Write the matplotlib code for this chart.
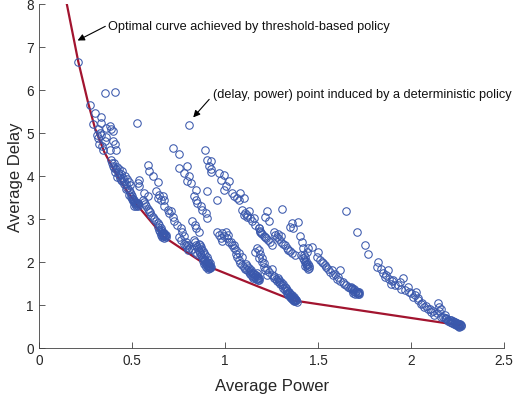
import numpy as np
import matplotlib
matplotlib.use('Agg')
import matplotlib.pyplot as plt

plt.rcParams['font.family'] = ['Liberation Sans', 'DejaVu Sans']

# ### optimal (threshold-based) curve ###
curve_power = [0.146, 0.187, 0.209, 0.262, 0.30, 0.35, 0.40, 0.45, 0.53, 0.67, 0.91, 1.18, 1.367, 2.266]
curve_delay = [8.04, 7.15, 6.67, 5.71, 5.10, 4.55, 4.15, 3.78, 3.30, 2.58, 1.89, 1.42, 1.10, 0.52]

# ### deterministic policies, grouped by streak ###
outliers = [(0.351, 5.92), (0.405, 5.96), (0.526, 5.22), (0.806, 5.18)]

streak_a = [(0.209, 6.66), (0.271, 5.65), (0.30, 5.47), (0.33, 5.38), (0.289, 5.2), (0.334, 5.22),
            (0.316, 5.08), (0.325, 5.0), (0.334, 4.96), (0.316, 4.89), (0.36, 5.12), (0.378, 5.16),
            (0.387, 5.08), (0.396, 5.04), (0.351, 4.81), (0.342, 4.61), (0.396, 4.81), (0.405, 4.73),
            (0.414, 4.61), (0.378, 4.61), (0.31, 4.95), (0.32, 4.75), (0.335, 4.7), (0.36, 4.9)]

streak_b = [(0.385, 4.38), (0.39, 4.3), (0.398, 4.24), (0.40, 4.18), (0.41, 4.15), (0.405, 4.08),
            (0.418, 4.2), (0.425, 4.1), (0.43, 4.02), (0.44, 4.05), (0.435, 3.95), (0.448, 3.95),
            (0.445, 3.88), (0.458, 3.88), (0.455, 3.8), (0.468, 3.8), (0.472, 3.72), (0.48, 3.68),
            (0.488, 3.62), (0.495, 3.58), (0.50, 3.52), (0.505, 3.47), (0.51, 3.44), (0.515, 3.4),
            (0.52, 3.36), (0.525, 3.32), (0.53, 3.3), (0.512, 3.3), (0.529, 3.36), (0.43, 4.15),
            (0.445, 4.12), (0.46, 4.0), (0.47, 3.92), (0.48, 3.86), (0.49, 3.78), (0.40, 4.3),
            (0.42, 3.98), (0.44, 3.9), (0.465, 3.7), (0.485, 3.56)]

streak_c = [(0.583, 4.25), (0.588, 4.11), (0.61, 3.99), (0.636, 3.86), (0.535, 3.91), (0.529, 3.83),
            (0.538, 3.76), (0.565, 3.6), (0.583, 3.52), (0.628, 3.64), (0.645, 3.56), (0.663, 3.52),
            (0.655, 3.44), (0.636, 3.48), (0.672, 3.44), (0.556, 3.44), (0.565, 3.38), (0.575, 3.3),
            (0.585, 3.22), (0.595, 3.15), (0.601, 3.09), (0.57, 3.34), (0.59, 3.18), (0.61, 3.05),
            (0.619, 3.0), (0.63, 2.95), (0.636, 2.9), (0.645, 2.85), (0.655, 2.78), (0.66, 2.72),
            (0.663, 2.66), (0.668, 2.63), (0.672, 2.59), (0.676, 2.6), (0.665, 2.68), (0.68, 2.62),
            (0.652, 2.74), (0.64, 2.8)]

streak_d = [(0.72, 4.64), (0.749, 4.51), (0.752, 4.18), (0.797, 4.22), (0.779, 4.07), (0.806, 3.99),
            (0.797, 3.87), (0.815, 3.83), (0.842, 3.68), (0.833, 3.52), (0.842, 3.44), (0.85, 3.37),
            (0.868, 3.29), (0.877, 3.21), (0.895, 3.13), (0.904, 3.01), (0.824, 2.94), (0.835, 2.85),
            (0.845, 2.78), (0.859, 2.7), (0.833, 2.5), (0.84, 2.45), (0.845, 2.4), (0.85, 2.35),
            (0.855, 2.3), (0.86, 2.25), (0.865, 2.2), (0.87, 2.15), (0.875, 2.12), (0.88, 2.08),
            (0.885, 2.04), (0.89, 1.98), (0.895, 1.95), (0.9, 1.92), (0.905, 1.9), (0.91, 1.88),
            (0.915, 1.86), (0.92, 1.85), (0.918, 1.9), (0.912, 1.94), (0.9, 2.0), (0.88, 2.02),
            (0.87, 2.3), (0.86, 2.42)]

streak_e = [(0.672, 3.29), (0.69, 3.21), (0.708, 3.17), (0.699, 3.13), (0.717, 3.05), (0.726, 2.94),
            (0.743, 2.86), (0.761, 2.78), (0.77, 2.7), (0.779, 2.59), (0.788, 2.47), (0.797, 2.35),
            (0.806, 2.31), (0.79, 2.4), (0.80, 2.28), (0.75, 2.58), (0.76, 2.5), (0.78, 2.42),
            (0.8, 2.38), (0.82, 2.3), (0.84, 2.22), (0.85, 2.18)]

streak_f = [(0.891, 4.61), (0.904, 4.38), (0.922, 4.34), (0.913, 4.22), (0.922, 4.15), (0.922, 4.08),
            (0.966, 4.07), (0.993, 4.03), (0.975, 3.91), (1.02, 3.87), (1.002, 3.76), (0.993, 3.68),
            (0.904, 3.65), (0.957, 3.44), (1.037, 3.6), (1.047, 3.52), (1.064, 3.48), (1.073, 3.44),
            (1.1, 3.48), (1.082, 3.6), (1.091, 3.21), (1.109, 3.13), (1.127, 3.17), (1.118, 3.05),
            (1.136, 3.01), (1.153, 3.01), (1.144, 2.94), (1.163, 2.86), (1.18, 2.78), (1.189, 2.7),
            (1.10, 3.08), (1.12, 3.1)]

streak_h = [(0.956, 2.7), (0.965, 2.62), (0.975, 2.55), (0.985, 2.48), (1.002, 2.7), (1.011, 2.55),
            (1.02, 2.47), (1.037, 2.39), (1.047, 2.31), (1.056, 2.19), (1.064, 2.12), (1.073, 2.04),
            (1.082, 1.98), (1.091, 1.92), (1.1, 1.88), (1.109, 1.84), (1.118, 1.8), (1.127, 1.77),
            (1.135, 1.72), (1.145, 1.68), (1.155, 1.64), (1.165, 1.6), (1.175, 1.58), (1.18, 1.62),
            (1.17, 1.66), (1.16, 1.7), (1.15, 1.75), (1.14, 1.8), (1.13, 1.85), (1.12, 1.9),
            (1.11, 1.95), (1.163, 2.23), (1.18, 2.27), (1.18, 2.08), (1.198, 2.0), (1.207, 1.88),
            (1.216, 1.8), (1.225, 1.69), (0.995, 2.6), (1.03, 2.45), (0.985, 2.66), (1.015, 2.62),
            (1.045, 2.4), (1.06, 2.28), (1.075, 2.2), (1.09, 2.1)]

streak_i = [(1.171, 2.31), (1.189, 2.19), (1.198, 2.08), (1.207, 1.96), (1.225, 1.84), (1.251, 1.84),
            (1.234, 1.77), (1.25, 1.7), (1.265, 1.62), (1.28, 1.55), (1.295, 1.48), (1.31, 1.4),
            (1.32, 1.35), (1.33, 1.28), (1.34, 1.22), (1.35, 1.18), (1.36, 1.14), (1.37, 1.11),
            (1.375, 1.09), (1.365, 1.16), (1.355, 1.22), (1.345, 1.27), (1.335, 1.32), (1.325, 1.38),
            (1.38, 1.12), (1.385, 1.07), (1.372, 1.13), (1.26, 1.68), (1.275, 1.6), (1.29, 1.52),
            (1.305, 1.45)]

streak_j = [(1.225, 3.17), (1.216, 3.05), (1.234, 2.95), (1.305, 3.23), (1.358, 2.9), (1.39, 2.92),
            (1.35, 2.82), (1.367, 2.78), (1.18, 2.78), (1.19, 2.72), (1.2, 2.65), (1.21, 2.6),
            (1.22, 2.55), (1.23, 2.5), (1.24, 2.45), (1.25, 2.4), (1.195, 2.68), (1.215, 2.57),
            (1.26, 2.7), (1.27, 2.62), (1.28, 2.58), (1.29, 2.52), (1.30, 2.47), (1.31, 2.42),
            (1.32, 2.38), (1.33, 2.33), (1.34, 2.28), (1.35, 2.24), (1.36, 2.2), (1.376, 2.15),
            (1.285, 2.65), (1.3, 2.6), (1.403, 2.59), (1.412, 2.47), (1.421, 2.31), (1.438, 2.23),
            (1.41, 2.15), (1.42, 2.08), (1.43, 2.0), (1.44, 1.92), (1.45, 1.86), (1.445, 1.84),
            (1.435, 1.95), (1.425, 2.05)]

streak_k = [(1.448, 2.31), (1.465, 2.35), (1.501, 2.23), (1.492, 2.12), (1.51, 2.04), (1.528, 1.96),
            (1.545, 1.88), (1.564, 1.77), (1.582, 1.69), (1.599, 1.61), (1.617, 1.8), (1.635, 1.53),
            (1.652, 1.45), (1.671, 1.38), (1.689, 1.33), (1.715, 1.26), (1.70, 1.3), (1.71, 1.28),
            (1.68, 1.36), (1.66, 1.42), (1.64, 1.48), (1.62, 1.55), (1.605, 1.64), (1.59, 1.72),
            (1.575, 1.8), (1.555, 1.84), (1.535, 1.92), (1.52, 2.0), (1.715, 1.3), (1.72, 1.25)]

streak_l = [(1.652, 3.17), (1.711, 2.7), (1.75, 2.39), (1.768, 2.19), (1.822, 2.0), (1.818, 1.88),
            (1.84, 1.84), (1.849, 1.73), (1.875, 1.8), (1.866, 1.69), (1.884, 1.61), (1.902, 1.57),
            (1.893, 1.49), (1.911, 1.45), (1.938, 1.53), (1.956, 1.63), (1.947, 1.37), (1.983, 1.41),
            (1.991, 1.3), (2.009, 1.18), (2.027, 1.3), (2.036, 1.1), (2.053, 1.02), (2.072, 0.95),
            (2.089, 0.91), (2.107, 0.83), (2.143, 1.05), (2.152, 0.95), (2.125, 0.75), (2.16, 0.71),
            (2.187, 0.67), (2.214, 0.59), (2.241, 0.53), (2.259, 0.48), (2.265, 0.52), (2.25, 0.55),
            (2.23, 0.6), (2.2, 0.65), (2.17, 0.72), (2.14, 0.8), (2.12, 0.86), (2.1, 0.9),
            (2.08, 0.98), (2.06, 1.05), (2.04, 1.15), (2.02, 1.22), (2.0, 1.28), (1.97, 1.35),
            (1.93, 1.45), (1.9, 1.55), (1.86, 1.65), (2.16, 0.9), (2.15, 0.85), (2.18, 0.75),
            (2.21, 0.65), (2.24, 0.58), (2.255, 0.56), (2.27, 0.5)]

# dense blobs at the ends of the streaks
blobs = [(0.885, 1.95), (0.89, 2.05), (0.895, 1.88), (0.905, 1.97), (0.91, 2.05), (0.915, 1.93),
         (0.92, 1.88), (0.908, 1.84), (0.9, 2.1), (0.893, 2.15), (0.885, 2.2), (0.878, 2.25),
         (0.87, 2.35), (0.865, 2.4), (0.918, 1.98), (0.925, 1.87),
         (1.34, 1.25), (1.35, 1.2), (1.355, 1.15), (1.36, 1.18), (1.365, 1.12), (1.37, 1.08),
         (1.375, 1.14), (1.38, 1.1), (1.345, 1.3), (1.33, 1.35), (1.32, 1.42), (1.31, 1.48),
         (1.3, 1.52), (1.29, 1.58), (1.285, 1.62), (1.37, 1.17), (1.36, 1.22),
         (2.2, 0.62), (2.21, 0.6), (2.22, 0.57), (2.23, 0.55), (2.24, 0.54), (2.25, 0.51),
         (2.26, 0.5), (2.265, 0.55), (2.255, 0.53), (2.245, 0.57), (2.235, 0.59), (2.225, 0.62),
         (2.215, 0.64), (2.19, 0.68), (2.18, 0.7), (2.27, 0.53), (2.26, 0.56),
         (0.655, 2.62), (0.66, 2.58), (0.665, 2.6), (0.67, 2.55), (0.675, 2.62), (0.66, 2.65),
         (0.65, 2.7), (0.645, 2.75), (0.672, 2.66), (0.68, 2.58),
         (0.515, 3.35), (0.52, 3.3), (0.525, 3.36), (0.51, 3.38), (0.505, 3.42), (0.53, 3.34),
         (0.5, 3.45), (0.495, 3.5),
         (1.15, 1.62), (1.16, 1.65), (1.17, 1.6), (1.175, 1.63), (1.165, 1.7), (1.155, 1.72),
         (1.145, 1.75), (1.135, 1.78), (1.18, 1.58), (1.17, 1.75),
         (1.69, 1.28), (1.7, 1.26), (1.705, 1.33), (1.715, 1.28), (1.72, 1.3), (1.695, 1.36),
         (1.685, 1.4), (1.675, 1.42),
         (1.43, 1.9), (1.44, 1.88), (1.445, 1.95), (1.45, 1.9), (1.435, 2.02), (1.43, 2.1),
         (1.425, 2.15)]

streaks = [outliers, streak_a, streak_b, streak_c, streak_d, streak_e, streak_f,
           streak_h, streak_i, streak_j, streak_k, streak_l, blobs]

fig = plt.figure(figsize=(5.14, 4.02), dpi=100)
ax = fig.add_axes([0.0765, 0.1326, 0.9040, 0.855])

ax.plot(curve_power, curve_delay, '-', color='#a2142f', lw=1.6, zorder=2)

for s in streaks:
    pw, dl = zip(*s)
    ax.plot(pw, dl, 'o', mfc='none', mec='#3a58ac', ms=5.4, mew=0.75, zorder=3)

# annotations: text plus a short arrow from its left edge
arrow = dict(arrowstyle='-|>', color='k', lw=0.8, mutation_scale=10, shrinkA=0, shrinkB=0)
ax.text(0.369, 7.49, 'Optimal curve achieved by threshold-based policy', fontsize=9.2, va='center', color='#111111')
ax.annotate('', xy=(0.206, 7.15), xytext=(0.355, 7.48), arrowprops=arrow)
ax.text(0.933, 5.91, '(delay, power) point induced by a deterministic policy', fontsize=9.2, va='center', color='#111111')
ax.annotate('', xy=(0.828, 5.36), xytext=(0.914, 5.78), arrowprops=arrow)

ax.set_xlim(0, 2.5)
ax.set_ylim(0, 8)
ax.set_xticks([0, 0.5, 1, 1.5, 2, 2.5])
ax.set_xticklabels(['0', '0.5', '1', '1.5', '2', '2.5'])
ax.set_yticks(range(0, 9))

for side in ['top', 'right']:
    ax.spines[side].set_visible(False)
for side in ['left', 'bottom']:
    ax.spines[side].set_color('#404040')
    ax.spines[side].set_linewidth(0.6)
ax.tick_params(direction='in', length=4, width=0.6, colors='#404040', labelsize=9.8, pad=4)
ax.tick_params(labelcolor='#262626')

ax.set_xlabel('Average Power', fontsize=12, color='#262626', labelpad=8)
ax.set_ylabel('Average Delay', fontsize=12, color='#262626', labelpad=2)

plt.savefig('out.png', dpi=100)
